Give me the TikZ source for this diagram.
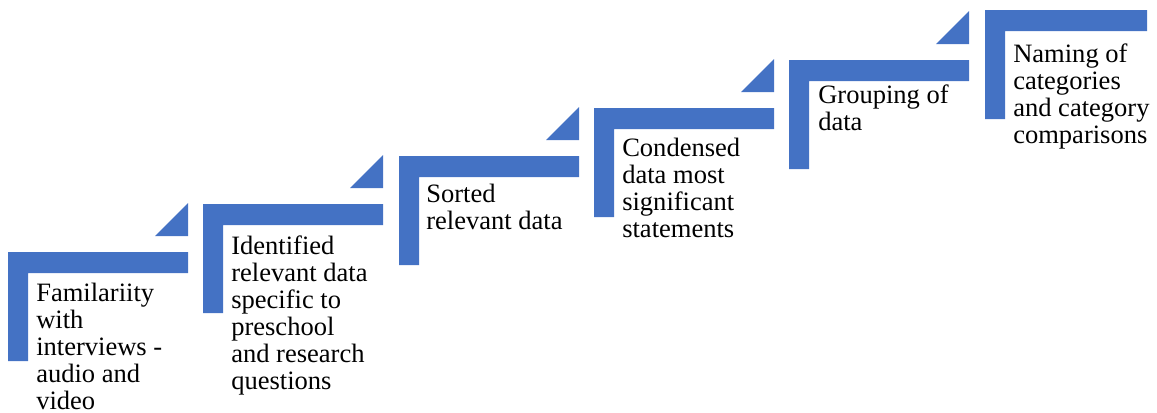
\documentclass[tikz,border=0pt]{standalone}
\usepackage{fontspec}
\setmainfont{Liberation Serif}
\definecolor{stepblue}{HTML}{4472C4}
\tikzset{
  stepfill/.style={fill=stepblue, draw=none},
  steptext/.style={anchor=base west, inner sep=0pt, align=left,
    font=\fontsize{19.9pt}{20.25pt}\selectfont, text=black}
}
\begin{document}
\begin{tikzpicture}[x=0.75pt, y=-0.75pt]
\useasboundingbox (0,0) rectangle (1157,412);
% steps: left, top, bar width
\foreach \L/\T/\W/\tri in {8/252/180/1, 203/204/180/1, 399/156/180/1, 594/108/180/1, 789/60/180/1, 985/10/162/0}{
  \fill[stepfill] (\L,\T) -- (\L+\W,\T) -- (\L+\W,\T+21) -- (\L+20,\T+21) -- (\L+20,\T+109) -- (\L,\T+109) -- cycle;
  \ifnum\tri=1
    \fill[stepfill] (\L+\W-33,\T-16) -- (\L+\W,\T-16) -- (\L+\W,\T-49) -- cycle;
  \fi
}
% anchors are on the baseline of the last line
\node[steptext] (s1) at (36,409) {Familariity\\with\\interviews -\\audio and\\video};
\node[steptext] (s2) at (231,389) {Identified\\relevant data\\specific to\\preschool\\and research\\questions};
\node[steptext] (s3) at (426,229) {Sorted\\relevant data};
\node[steptext] (s4) at (622,237) {Condensed\\data most\\significant\\statements};
\node[steptext] (s5) at (818,130) {Grouping of\\data};
\node[steptext] (s6) at (1013,143) {Naming of\\categories\\and category\\comparisons};
\end{tikzpicture}
\end{document}
